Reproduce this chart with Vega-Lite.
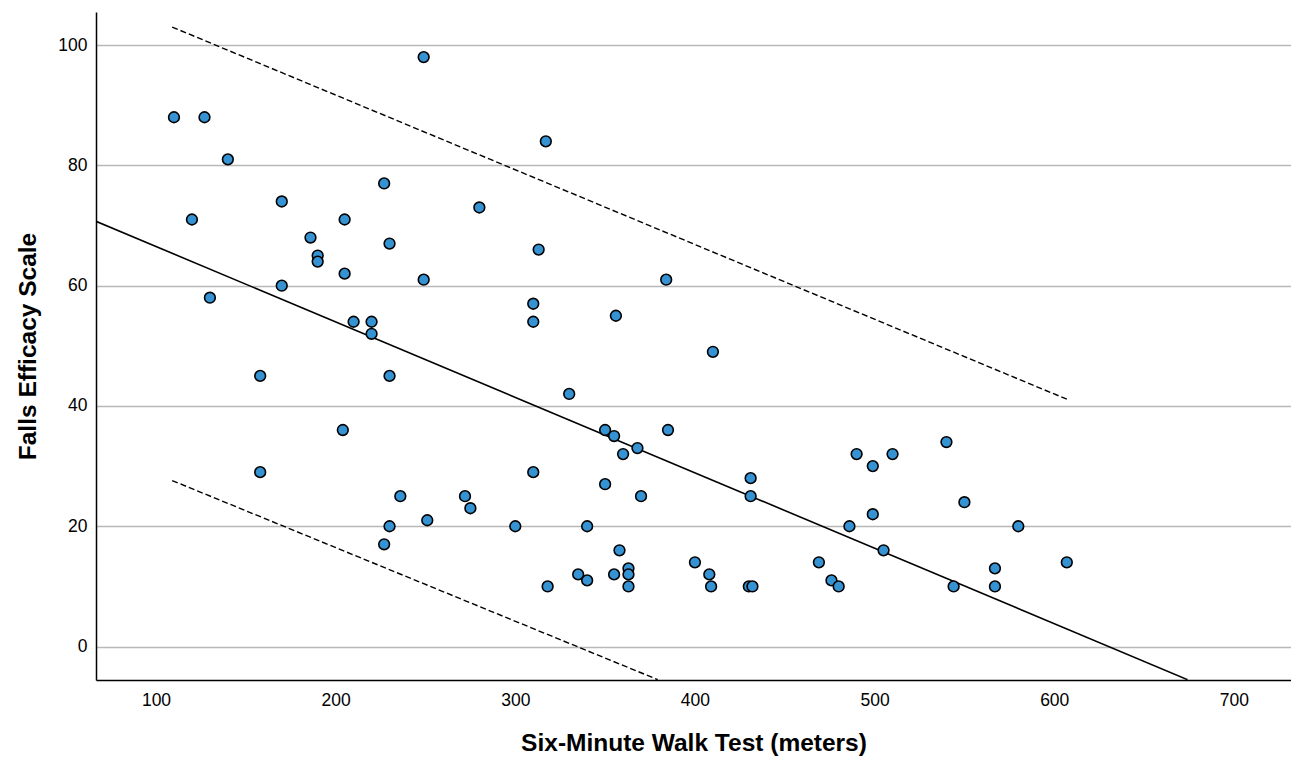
{
  "$schema": "https://vega.github.io/schema/vega-lite/v6.json",
  "width": 1195,
  "height": 668,
  "autosize": {"type": "none"},
  "padding": {"left": 96, "top": 12, "right": 0, "bottom": 80},
  "background": "white",
  "config": {
    "view": {"stroke": null},
    "font": "Liberation Sans",
    "axis": {"labelFont": "Liberation Sans", "titleFont": "Liberation Sans"}
  },
  "datasets": {
    "pts": [
      {"walk": 249, "fes": 98}, {"walk": 110, "fes": 88}, {"walk": 127, "fes": 88},
      {"walk": 140, "fes": 81}, {"walk": 227, "fes": 77}, {"walk": 170, "fes": 74},
      {"walk": 120, "fes": 71}, {"walk": 205, "fes": 71}, {"walk": 186, "fes": 68},
      {"walk": 230, "fes": 67}, {"walk": 190, "fes": 65}, {"walk": 190, "fes": 64},
      {"walk": 205, "fes": 62}, {"walk": 249, "fes": 61}, {"walk": 170, "fes": 60},
      {"walk": 130, "fes": 58}, {"walk": 210, "fes": 54}, {"walk": 220, "fes": 54},
      {"walk": 220, "fes": 52},
      {"walk": 317, "fes": 84}, {"walk": 280, "fes": 73}, {"walk": 313, "fes": 66},
      {"walk": 384, "fes": 61}, {"walk": 310, "fes": 57}, {"walk": 310, "fes": 54},
      {"walk": 356, "fes": 55}, {"walk": 410, "fes": 49},
      {"walk": 158, "fes": 45}, {"walk": 230, "fes": 45}, {"walk": 204, "fes": 36},
      {"walk": 158, "fes": 29}, {"walk": 236, "fes": 25}, {"walk": 251, "fes": 21},
      {"walk": 230, "fes": 20}, {"walk": 227, "fes": 17},
      {"walk": 330, "fes": 42}, {"walk": 350, "fes": 36}, {"walk": 355, "fes": 35},
      {"walk": 385, "fes": 36}, {"walk": 368, "fes": 33}, {"walk": 360, "fes": 32},
      {"walk": 310, "fes": 29}, {"walk": 350, "fes": 27}, {"walk": 272, "fes": 25},
      {"walk": 370, "fes": 25}, {"walk": 275, "fes": 23}, {"walk": 300, "fes": 20},
      {"walk": 340, "fes": 20}, {"walk": 358, "fes": 16}, {"walk": 400, "fes": 14},
      {"walk": 335, "fes": 12}, {"walk": 340, "fes": 11}, {"walk": 355, "fes": 12},
      {"walk": 363, "fes": 13}, {"walk": 363, "fes": 12}, {"walk": 363, "fes": 10},
      {"walk": 318, "fes": 10}, {"walk": 408, "fes": 12}, {"walk": 409, "fes": 10},
      {"walk": 430, "fes": 10}, {"walk": 432, "fes": 10}, {"walk": 431, "fes": 28},
      {"walk": 431, "fes": 25},
      {"walk": 540, "fes": 34}, {"walk": 490, "fes": 32}, {"walk": 510, "fes": 32},
      {"walk": 499, "fes": 30}, {"walk": 550, "fes": 24}, {"walk": 499, "fes": 22},
      {"walk": 486, "fes": 20}, {"walk": 580, "fes": 20}, {"walk": 505, "fes": 16},
      {"walk": 469, "fes": 14}, {"walk": 607, "fes": 14}, {"walk": 567, "fes": 13},
      {"walk": 476, "fes": 11}, {"walk": 480, "fes": 10}, {"walk": 544, "fes": 10},
      {"walk": 567, "fes": 10}
    ],
    "lines": [
      {"kind": "fit", "walk": 66.6, "fes": 70.7},
      {"kind": "fit", "walk": 674.2, "fes": -5.5},
      {"kind": "upper", "walk": 109, "fes": 103.0},
      {"kind": "upper", "walk": 608, "fes": 41.0},
      {"kind": "lower", "walk": 109, "fes": 27.6},
      {"kind": "lower", "walk": 379.3, "fes": -5.5}
    ]
  },
  "encoding": {
    "x": {
      "field": "walk", "type": "quantitative",
      "scale": {"domain": [66.6, 731.8], "nice": false, "zero": false},
      "axis": {
        "title": "Six-Minute Walk Test (meters)",
        "values": [100, 200, 300, 400, 500, 600, 700],
        "grid": false, "ticks": false,
        "domainColor": "#000000", "domainWidth": 1.5,
        "labelFontSize": 17.5, "labelColor": "#000000", "labelPadding": 11,
        "titleFontSize": 24.5, "titleFontWeight": "bold", "titleColor": "#000000", "titlePadding": 23
      }
    },
    "y": {
      "field": "fes", "type": "quantitative",
      "scale": {"domain": [-5.56, 105.5], "nice": false, "zero": false},
      "axis": {
        "title": "Falls Efficacy Scale",
        "values": [0, 20, 40, 60, 80, 100],
        "grid": true, "gridColor": "#b8b8b8", "gridWidth": 1.5, "gridOpacity": 1,
        "ticks": false,
        "domainColor": "#000000", "domainWidth": 1.5,
        "labelFontSize": 17.5, "labelColor": "#000000", "labelPadding": 9,
        "titleFontSize": 24.5, "titleFontWeight": "bold", "titleColor": "#000000", "titlePadding": 17
      }
    }
  },
  "layer": [
    {
      "data": {"name": "lines"},
      "transform": [{"filter": "datum.kind === 'fit'"}],
      "mark": {"type": "line", "color": "#000000", "strokeWidth": 1.6, "clip": true},
      "encoding": {"detail": {"field": "kind"}}
    },
    {
      "data": {"name": "lines"},
      "transform": [{"filter": "datum.kind !== 'fit'"}],
      "mark": {"type": "line", "color": "#000000", "strokeWidth": 1.4, "strokeDash": [6, 3], "clip": true},
      "encoding": {"detail": {"field": "kind"}}
    },
    {
      "data": {"name": "pts"},
      "mark": {"type": "point", "filled": true, "shape": "circle", "size": 115, "fill": "#3593d3", "stroke": "#000000", "strokeWidth": 1.6, "opacity": 1}
    }
  ]
}
